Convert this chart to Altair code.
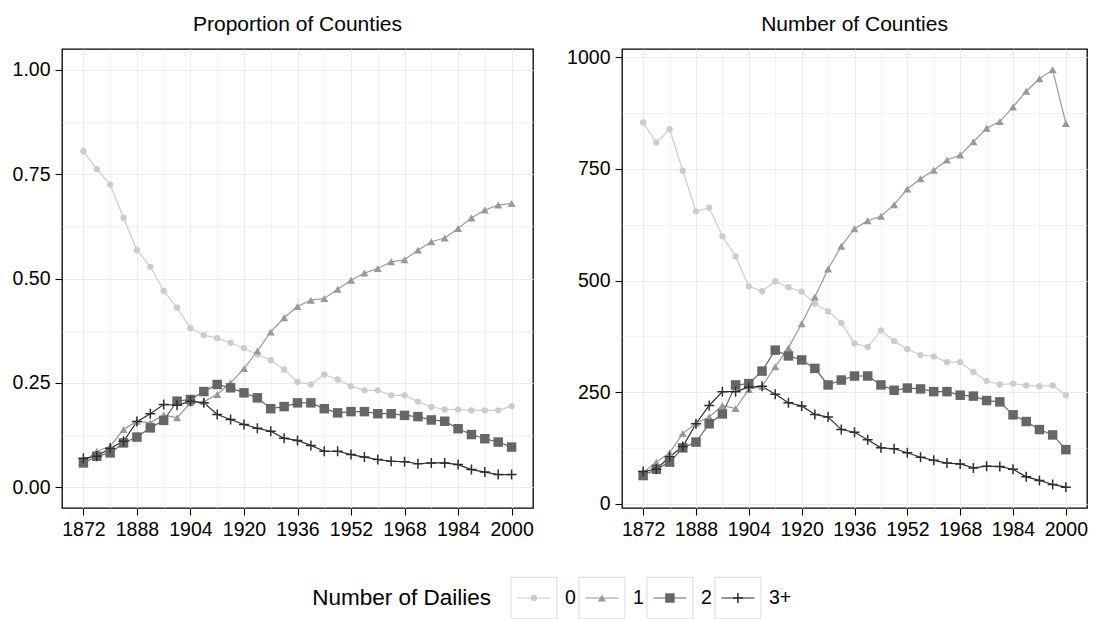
import altair as alt
import pandas as pd

# ---- data -------------------------------------------------------------
years = [1872, 1876, 1880, 1884, 1888, 1892, 1896, 1900, 1904, 1908, 1912,
         1916, 1920, 1924, 1928, 1932, 1936, 1940, 1944, 1948, 1952, 1956,
         1960, 1964, 1968, 1972, 1976, 1980, 1984, 1988, 1992, 1996, 2000]
groups = ["0", "1", "2", "3+"]
legend_title = "Number of Dailies"
panel_titles = ["Proportion of Counties", "Number of Counties"]

share_0 = [0.805, 0.762, 0.725, 0.645, 0.568, 0.528, 0.470, 0.430, 0.381, 0.364, 0.357,
           0.346, 0.333, 0.318, 0.304, 0.282, 0.252, 0.246, 0.270, 0.258, 0.242, 0.232,
           0.232, 0.220, 0.220, 0.205, 0.192, 0.186, 0.186, 0.184, 0.184, 0.184, 0.194]
share_1 = [0.060, 0.086, 0.098, 0.138, 0.158, 0.154, 0.173, 0.166, 0.202, 0.205, 0.222,
           0.250, 0.284, 0.326, 0.372, 0.406, 0.433, 0.448, 0.452, 0.474, 0.496, 0.513,
           0.524, 0.540, 0.545, 0.568, 0.588, 0.597, 0.620, 0.645, 0.664, 0.676, 0.680]
share_2 = [0.058, 0.074, 0.082, 0.106, 0.120, 0.142, 0.160, 0.206, 0.210, 0.229, 0.246,
           0.238, 0.226, 0.214, 0.188, 0.193, 0.202, 0.202, 0.188, 0.178, 0.181, 0.181,
           0.176, 0.176, 0.172, 0.169, 0.161, 0.158, 0.140, 0.126, 0.116, 0.108, 0.096]
share_3 = [0.069, 0.074, 0.093, 0.110, 0.157, 0.176, 0.198, 0.196, 0.206, 0.202, 0.174,
           0.162, 0.150, 0.141, 0.134, 0.117, 0.112, 0.100, 0.086, 0.086, 0.078, 0.072,
           0.066, 0.062, 0.061, 0.056, 0.058, 0.058, 0.054, 0.042, 0.036, 0.030, 0.030]

count_0 = [854, 809, 839, 746, 655, 663, 599, 554, 487, 476, 498,
           485, 475, 448, 431, 405, 359, 351, 388, 364, 346, 333,
           330, 317, 317, 295, 275, 267, 269, 265, 263, 265, 243]
count_1 = [70, 93, 114, 157, 180, 194, 220, 213, 256, 263, 307,
           349, 403, 463, 526, 577, 616, 634, 644, 670, 705, 728,
           747, 770, 781, 811, 841, 856, 889, 924, 952, 972, 852]
count_2 = [63, 77, 93, 125, 138, 179, 201, 266, 269, 297, 344,
           331, 322, 303, 266, 277, 286, 286, 266, 254, 259, 257,
           251, 251, 243, 241, 231, 228, 199, 184, 166, 154, 121]
count_3 = [72, 77, 105, 128, 179, 220, 251, 251, 261, 263, 245,
           226, 219, 200, 194, 166, 160, 143, 125, 123, 114, 104,
           97, 91, 89, 80, 84, 83, 77, 60, 52, 43, 37]

# axis tick positions (major + minor grid)
x_ticks = [1872, 1880, 1888, 1896, 1904, 1912, 1920, 1928, 1936,
           1944, 1952, 1960, 1968, 1976, 1984, 1992, 2000]
share_ticks = [0, 0.125, 0.25, 0.375, 0.5, 0.625, 0.75, 0.875, 1.0]
count_ticks = [0, 125, 250, 375, 500, 625, 750, 875, 1000]

# ---- styling ----------------------------------------------------------
FONT = "Liberation Sans"
grey_levels = ["#cccccc", "#999999", "#666666", "#2e2e2e"]
plus_path = "M-1,0L1,0M0,-1L0,1"
marker_shapes = ["circle", "triangle-up", "square", plus_path]
marker_sizes = [40, 115, 55, 100]
box_path = "M-1,-0.9L1,-0.9L1,0.9L-1,0.9Z"
PANEL_H = 459


def to_long(series):
    rows = []
    for g, vals in zip(groups, series):
        for yr, v in zip(years, vals):
            rows.append({"year": yr, "group": g, "value": v})
    return pd.DataFrame(rows)


def make_axis(values, minor_test, fmt):
    return alt.Axis(
        values=values, format=fmt,
        labelExpr=f"({minor_test}) ? '' : datum.label",
        title=None, domain=False,
        tickSize=7, tickWidth=1.1, tickColor="black",
        tickOpacity={"condition": {"test": minor_test, "value": 0}, "value": 1},
        labelColor="black", labelFont=FONT, labelFontSize=19.5, labelPadding=5,
        labelOverlap=False, labelFlush=False,
        grid=True, gridColor="#ebebeb",
        gridWidth={"condition": {"test": minor_test, "value": 0.6}, "value": 1.1},
    )


color_enc = alt.Color("group:N", scale=alt.Scale(domain=groups, range=grey_levels), legend=None)
shape_enc = alt.Shape("group:N", scale=alt.Scale(domain=groups, range=marker_shapes), legend=None)
size_enc = alt.Size("group:N", scale=alt.Scale(domain=groups, range=marker_sizes), legend=None)

x_minor = "(datum.value - 1872) % 16 != 0"


def panel(df, title, y_domain, y_values, y_minor, y_fmt, width):
    x = alt.X("year:Q", scale=alt.Scale(domain=[1865.6, 2006.4], nice=False, zero=False),
              axis=make_axis(x_ticks, x_minor, "d"))
    y = alt.Y("value:Q", scale=alt.Scale(domain=y_domain, nice=False, zero=False),
              axis=make_axis(y_values, y_minor, y_fmt))
    base = alt.Chart(df).encode(x=x, y=y, color=color_enc)
    lines = base.mark_line(strokeWidth=1.2)
    solid = base.transform_filter(alt.datum.group != "3+").mark_point(
        filled=True, opacity=1).encode(shape=shape_enc, size=size_enc)
    plus = base.transform_filter(alt.datum.group == "3+").mark_point(
        shape=plus_path, filled=False, strokeWidth=1.5, size=marker_sizes[3], opacity=1)
    heading = alt.Chart(pd.DataFrame({"label": [title]})).mark_text(
        align="center", baseline="alphabetic", font=FONT, fontSize=21, color="black"
    ).encode(x=alt.value(width / 2), y=alt.value(-18), text="label:N")
    return alt.layer(lines, solid, plus, heading).properties(
        width=width, height=PANEL_H,
        view=alt.ViewBackground(stroke="black", strokeWidth=1.3),
    )


left = panel(to_long([share_0, share_1, share_2, share_3]), panel_titles[0],
             [-0.05, 1.05], share_ticks, "round(datum.value * 8) % 2 == 1", ".2f", 471)
right = panel(to_long([count_0, count_1, count_2, count_3]), panel_titles[1],
              [-9.75, 1018.75], count_ticks, "datum.value % 250 != 0", "d", 465)

# ---- legend row -------------------------------------------------------
legend_df = pd.DataFrame({"group": groups, "slot": [0, 1, 2, 3]})
lx = alt.X("slot:Q", scale=alt.Scale(domain=[-6.94, 8.06], nice=False, zero=False), axis=None)
ly = alt.value(22)
key_base = alt.Chart(legend_df).encode(x=lx, y=ly)

boxes = key_base.mark_point(shape=box_path, filled=False, color="#d9d9d9",
                            strokeWidth=1, size=2116, opacity=1)
key_lines = key_base.mark_point(shape="M-1,0L1,0", filled=False, strokeWidth=1.2,
                                size=1089, opacity=1).encode(color=color_enc)
key_solid = key_base.transform_filter(alt.datum.group != "3+").mark_point(
    filled=True, opacity=1).encode(color=color_enc, shape=shape_enc, size=size_enc)
key_plus = key_base.transform_filter(alt.datum.group == "3+").mark_point(
    shape=plus_path, filled=False, strokeWidth=1.5, size=marker_sizes[3], opacity=1
).encode(color=color_enc)
key_text = key_base.mark_text(align="left", baseline="middle", dx=31, font=FONT,
                              fontSize=19.5, color="black").encode(text="group:N")
key_title = alt.Chart(pd.DataFrame({"label": [legend_title]})).mark_text(
    align="right", baseline="middle", font=FONT, fontSize=22.5, color="black"
).encode(x=alt.value(429), y=ly, text="label:N")

legend_row = alt.layer(boxes, key_lines, key_solid, key_plus, key_text, key_title).properties(
    width=1020, height=44, view=alt.ViewBackground(stroke="transparent"))

chart = alt.vconcat(
    alt.hconcat(left, right, spacing=31),
    legend_row,
    spacing=34,
).properties(
    padding={"left": 11, "top": 13, "right": 5, "bottom": 5},
    background="white",
).configure_text(font=FONT)

chart.save("out.html", embed_options={"renderer": "svg", "actions": False})
